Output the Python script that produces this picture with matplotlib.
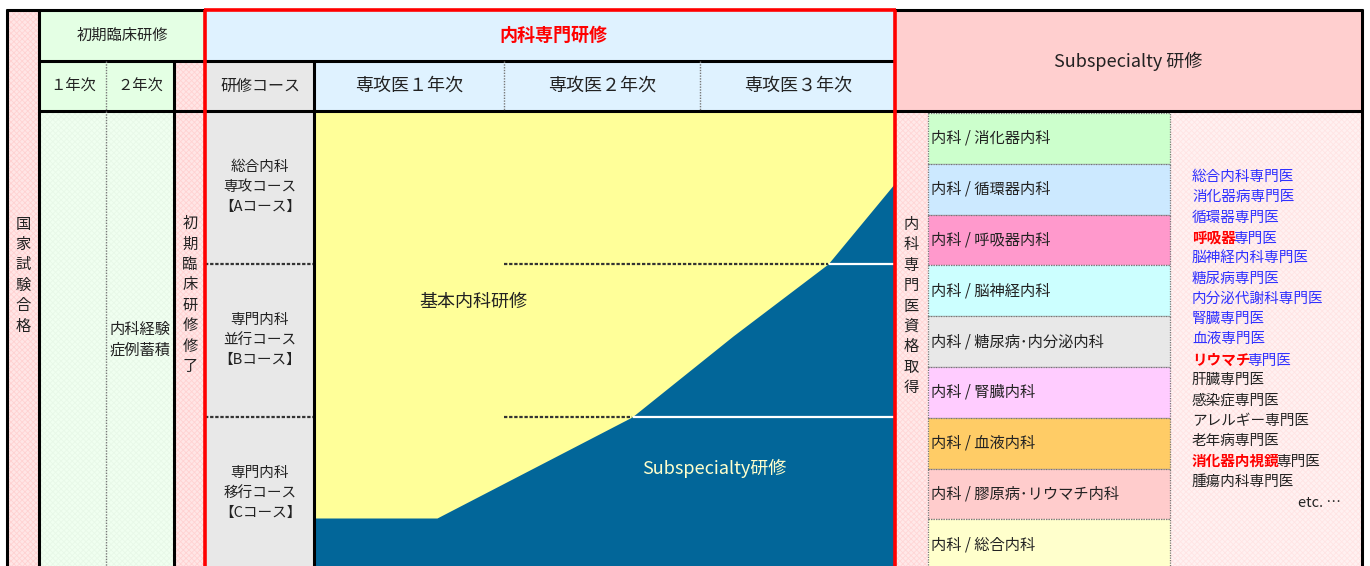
import matplotlib
matplotlib.use("Agg")
import matplotlib.pyplot as plt
from matplotlib.patches import Rectangle

plt.rcParams['font.family'] = ['Noto Sans CJK JP', 'DejaVu Sans']
plt.rcParams['hatch.linewidth'] = 0.6

# ---- data ----
shoki_title = '初期臨床研修'
shoki_years = ['１年次', '２年次']
naika_title = '内科専門研修'
course_header = '研修コース'
senkoi_years = ['専攻医１年次', '専攻医２年次', '専攻医３年次']
sub_title = 'Subspecialty 研修'

courses = [['総合内科', '専攻コース', '【Aコース】'],
           ['専門内科', '並行コース', '【Bコース】'],
           ['専門内科', '移行コース', '【Cコース】']]

# boundary between 基本内科研修 (yellow) and Subspecialty研修 (blue), pixel grid of the sheet
curve_x = [314, 437, 632, 733, 828, 895]
curve_y = [518, 518, 417, 336, 264, 183]

specialties = ['消化器内科', '循環器内科', '呼吸器内科', '脳神経内科', '糖尿病･内分泌内科',
               '腎臓内科', '血液内科', '膠原病･リウマチ内科', '総合内科']
specialty_colors = ['#ccffcc', '#cce9ff', '#ff99cc', '#ccffff', '#e8e8e8',
                    '#ffccff', '#ffcc66', '#ffcccc', '#ffffcc']

# (red bold prefix, rest, colour of rest)
certs = [('', '総合内科専門医', '#3030ff'),
         ('', '消化器病専門医', '#3030ff'),
         ('', '循環器専門医', '#3030ff'),
         ('呼吸器', '専門医', '#3030ff'),
         ('', '脳神経内科専門医', '#3030ff'),
         ('', '糖尿病専門医', '#3030ff'),
         ('', '内分泌代謝科専門医', '#3030ff'),
         ('', '腎臓専門医', '#3030ff'),
         ('', '血液専門医', '#3030ff'),
         ('リウマチ', '専門医', '#3030ff'),
         ('', '肝臓専門医', '#222222'),
         ('', '感染症専門医', '#222222'),
         ('', 'アレルギー専門医', '#222222'),
         ('', '老年病専門医', '#222222'),
         ('消化器内視鏡', '専門医', '#222222'),
         ('', '腫瘍内科専門医', '#222222')]

# ---- drawing ----
fig = plt.figure(figsize=(13.7, 5.66), dpi=100)
ax = fig.add_axes([0, 0, 1, 1])
ax.set_xlim(0, 1370)
ax.set_ylim(566, 0)
ax.axis('off')

BOT = 575
TXT = '#222222'


def cell(x0, y0, x1, y1, fc, hatch=None, hc=None):
    if hatch:
        ax.add_patch(Rectangle((x0, y0), x1 - x0, y1 - y0, facecolor=fc,
                               edgecolor=hc, hatch=hatch, linewidth=0, zorder=1))
    else:
        ax.add_patch(Rectangle((x0, y0), x1 - x0, y1 - y0, facecolor=fc,
                               edgecolor='none', linewidth=0, zorder=1))


def hline(y, x0, x1, **kw):
    ax.plot([x0, x1], [y, y], solid_capstyle='butt', zorder=5, **kw)


def vline(x, y0, y1, **kw):
    ax.plot([x, x], [y0, y1], solid_capstyle='butt', zorder=5, **kw)


def vtext(x, yc, s, size=11, step=20.4):
    n = len(s)
    for i, ch in enumerate(s):
        ax.text(x, yc + (i - (n - 1) / 2) * step, ch, ha='center', va='center',
                fontsize=size, color=TXT, zorder=6)


# background cells
cell(7, 10, 39, BOT, '#ffe6e6', 'xxxxxx', '#ffd2d2')
cell(39, 10, 205, 61, '#e4ffe4')
cell(39, 61, 174, 111, '#e4ffe4')
cell(39, 111, 174, BOT, '#f0fff0', 'xxxxxx', '#e8f8e8')
cell(174, 61, 205, BOT, '#ffe6e6', 'xxxxxx', '#ffd2d2')
cell(205, 10, 895, 61, '#dff2ff')
cell(205, 61, 314, 111, '#e8e8e8')
cell(314, 61, 895, 111, '#dff2ff')
cell(205, 111, 314, BOT, '#e8e8e8')
cell(314, 111, 895, BOT, '#ffff99')
cell(895, 10, 1362, 111, '#ffcfcf')
cell(895, 111, 928, BOT, '#ffe9e9', 'xxxxxx', '#ffd6d6')
cell(1170, 111, 1362, BOT, '#fff1f1', 'xxxxxx', '#ffe4e4')

# subspecialty area
ax.fill_between(curve_x, curve_y, BOT, color='#026699', linewidth=0, zorder=2)

# course separators
for yy, xc in zip([264, 417], [curve_x[4], curve_x[2]]):
    hline(yy, 205, 314, color='#333333', lw=1.6, ls=(0, (1.5, 0.8)))
    hline(yy, 504, xc, color='#333333', lw=1.6, ls=(0, (1.5, 0.8)))
    hline(yy, xc + 1, 895, color='white', lw=1.6)

# specialty rows
row_top, row_h = 113, 50.8
for i, (name, c) in enumerate(zip(specialties, specialty_colors)):
    y0 = row_top + i * row_h
    ax.add_patch(Rectangle((928, y0), 1170 - 928, row_h, facecolor=c, edgecolor='#777777',
                           linewidth=0.9, linestyle=(0, (1, 1)), zorder=3))
    ax.text(931, y0 + row_h / 2, '内科 / ' + name, ha='left', va='center',
            fontsize=11, color=TXT, zorder=6)

# grid lines
K = dict(color='black', lw=2.2)
R = dict(color='#ff0000', lw=2.6)
D = dict(color='#777777', lw=1.0, ls=(0, (1, 1)))
hline(10, 6, 205, **K)
hline(10, 895, 1363, **K)
hline(61, 39, 895, **K)
hline(111, 39, 1362, **K)
vline(7, 9, BOT, **K)
vline(39, 10, BOT, **K)
vline(174, 61, BOT, **K)
vline(314, 61, BOT, **K)
vline(1362, 9, BOT, **K)
vline(106, 61, BOT, **D)
vline(504, 61, 111, **D)
vline(700, 61, 111, **D)
hline(10, 204, 896, **R)
vline(205, 10, BOT, **R)
vline(895, 10, BOT, **R)

# header texts
ax.text(122, 35, shoki_title, ha='center', va='center', fontsize=11, color=TXT, zorder=6)
for xc, s in zip([73, 140], shoki_years):
    ax.text(xc, 86, s, ha='center', va='center', fontsize=11, color=TXT, zorder=6)
ax.text(553, 35, naika_title, ha='center', va='center', fontsize=13, color='#ff0000',
        fontweight='bold', zorder=6)
ax.text(260, 86, course_header, ha='center', va='center', fontsize=11.5, color=TXT, zorder=6)
for xc, s in zip([409, 602, 798], senkoi_years):
    ax.text(xc, 86, s, ha='center', va='center', fontsize=13, color=TXT, zorder=6)
ax.text(1128, 61, sub_title, ha='center', va='center', fontsize=13, color=TXT, zorder=6)

# vertical labels
vtext(23, 275, '国家試験合格')
vtext(190, 295, '初期臨床研修修了')
vtext(911, 306, '内科専門医資格取得')

ax.text(140, 329, '内科経験', ha='center', va='center', fontsize=11, color=TXT, zorder=6)
ax.text(140, 350, '症例蓄積', ha='center', va='center', fontsize=11, color=TXT, zorder=6)

for yc, lines in zip([187, 340, 493], courses):
    for j, s in enumerate(lines):
        ax.text(260, yc + (j - 1) * 20.4, s, ha='center', va='center',
                fontsize=10.5, color=TXT, zorder=6)

ax.text(473, 302, '基本内科研修', ha='center', va='center', fontsize=13, color=TXT, zorder=6)
ax.text(714, 468, 'Subspecialty研修', ha='center', va='center', fontsize=13,
        color='#ffffcc', zorder=6)

# certification list
for i, (pre, rest, c) in enumerate(certs):
    y = 177 + i * 20.3
    if pre:
        t = ax.text(1192, y, pre, ha='left', va='center', fontsize=10.5, color='#ff0000',
                    fontweight='bold', zorder=6)
        ax.annotate(rest, xy=(1, 0), xycoords=t, xytext=(-3, 0), textcoords='offset pixels',
                    ha='left', va='bottom', fontsize=10.5, color=c, zorder=6)
    else:
        ax.text(1192, y, rest, ha='left', va='center', fontsize=10.5, color=c, zorder=6)
ax.text(1341, 503, 'etc. …', ha='right', va='center', fontsize=10.5, color=TXT, zorder=6)

fig.savefig('out.png', dpi=100)
